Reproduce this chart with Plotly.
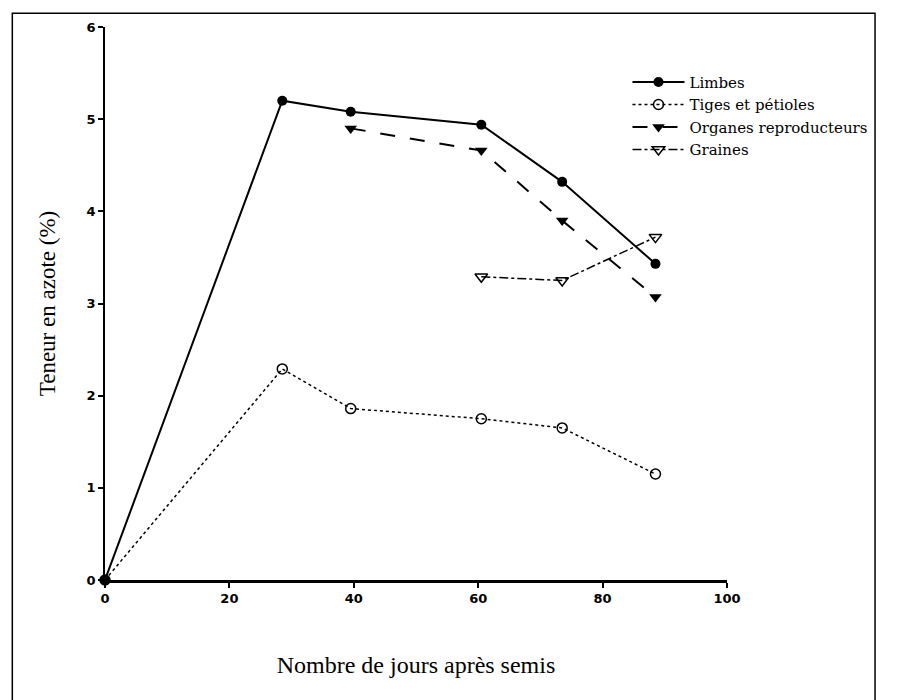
import plotly.graph_objects as go

limbes_x = [0, 28.5, 39.5, 60.5, 73.5, 88.5]
limbes_y = [0, 5.20, 5.08, 4.94, 4.32, 3.43]

tiges_x = [0, 28.5, 39.5, 60.5, 73.5, 88.5]
tiges_y = [0, 2.29, 1.86, 1.75, 1.65, 1.15]

organes_x = [39.5, 60.5, 73.5, 88.5]
organes_y = [4.90, 4.66, 3.90, 3.07]

graines_x = [60.5, 73.5, 88.5]
graines_y = [3.29, 3.25, 3.72]

x_ticks = [0, 20, 40, 60, 80, 100]
y_ticks = [0, 1, 2, 3, 4, 5, 6]

serif = "Liberation Serif"
tickfont = dict(family="DejaVu Sans", size=13, color="black", weight="bold")

fig = go.Figure()
fig.add_trace(go.Scatter(x=limbes_x, y=limbes_y, name="Limbes", mode="lines+markers",
                         line=dict(color="black", width=2, dash="solid"),
                         marker=dict(symbol="circle", size=10, color="black"),
                         cliponaxis=False))
fig.add_trace(go.Scatter(x=tiges_x, y=tiges_y, name="Tiges et pétioles", mode="lines+markers",
                         line=dict(color="black", width=1.5, dash="dot"),
                         marker=dict(symbol="circle-open", size=10, color="black", line=dict(width=1.5)),
                         cliponaxis=False))
fig.add_trace(go.Scatter(x=organes_x, y=organes_y, name="Organes reproducteurs", mode="lines+markers",
                         line=dict(color="black", width=2, dash="longdash"),
                         marker=dict(symbol="triangle-down", size=11, color="black"),
                         cliponaxis=False))
fig.add_trace(go.Scatter(x=graines_x, y=graines_y, name="Graines", mode="lines+markers",
                         line=dict(color="black", width=1.5, dash="dashdot"),
                         marker=dict(symbol="triangle-down-open", size=11, color="black", line=dict(width=1.5)),
                         cliponaxis=False))

fig.add_shape(type="rect", xref="paper", yref="paper",
              x0=-0.149, x1=1.238, y0=-0.25, y1=1.025,
              line=dict(color="black", width=1.5))

fig.update_layout(
    width=897, height=700,
    margin=dict(l=97, r=178, t=13, b=128),
    paper_bgcolor="white", plot_bgcolor="white",
    showlegend=True,
    legend=dict(x=0.84, y=0.93, xanchor="left", yanchor="top",
                bgcolor="rgba(0,0,0,0)", font=dict(family="DejaVu Serif", size=15, color="black"),
                tracegroupgap=0, itemwidth=52),
    xaxis=dict(range=[0, 100], tickvals=x_ticks, showgrid=False, zeroline=False,
               showline=True, linecolor="black", linewidth=2.5, ticks="outside", ticklen=5,
               tickcolor="black", tickwidth=1.5, tickfont=tickfont,
               title=dict(text="Nombre de jours après semis", standoff=51,
                          font=dict(family=serif, size=24, color="black"))),
    yaxis=dict(range=[0, 6], tickvals=y_ticks, showgrid=False, zeroline=False,
               showline=True, linecolor="black", linewidth=1.5, ticks="outside", ticklen=5,
               tickcolor="black", tickwidth=1.5, tickfont=tickfont,
               title=dict(text="Teneur en azote (%)", standoff=25,
                          font=dict(family=serif, size=23, color="black"))),
)

fig.write_html("out.html")
